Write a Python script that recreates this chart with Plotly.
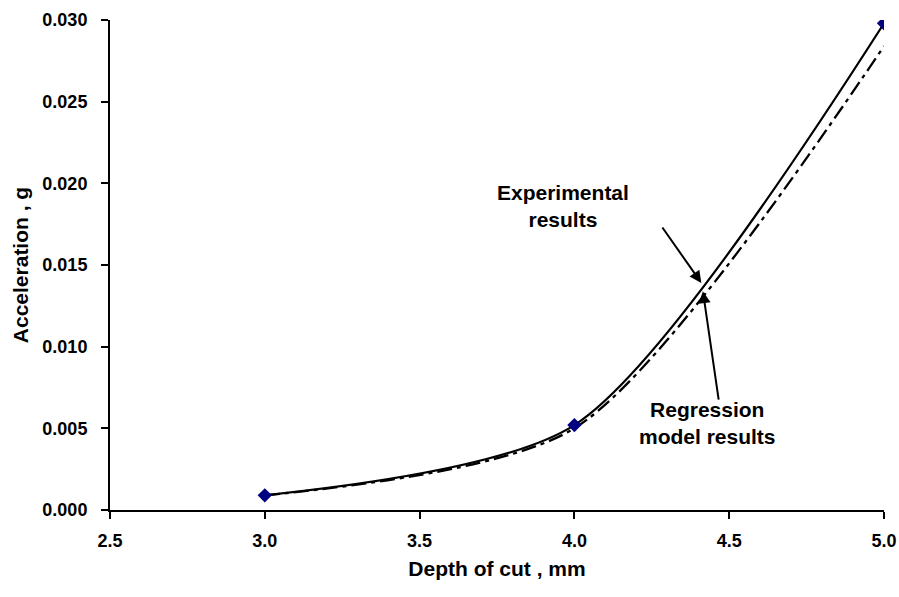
import plotly.graph_objects as go

# Measured vibration data
depth_mm = [3.0, 4.0, 5.0]
accel_exp = [0.0009, 0.0052, 0.0298]

# Regression model predictions
accel_reg = [0.0009, 0.0050, 0.0284]

x_ticks = [2.5, 3.0, 3.5, 4.0, 4.5, 5.0]
y_ticks = [0.000, 0.005, 0.010, 0.015, 0.020, 0.025, 0.030]

font_family = "Liberation Sans, Arial, sans-serif"

fig = go.Figure()

fig.add_trace(go.Scatter(
    x=depth_mm, y=accel_reg, mode="lines",
    line=dict(shape="spline", smoothing=0.75, color="black", width=2.3,
              dash="15px,5px,4px,5px"),
    showlegend=False,
))

fig.add_trace(go.Scatter(
    x=depth_mm, y=accel_exp, mode="lines+markers",
    line=dict(shape="spline", smoothing=0.75, color="black", width=2.2),
    marker=dict(symbol="diamond", size=11, color="#000080",
                line=dict(width=0)),
    showlegend=False,
))

axis_font = dict(family=font_family, size=18, color="black")
title_font = dict(family=font_family, size=21, color="black")

fig.update_xaxes(
    range=[2.5, 5.0], tickvals=x_ticks,
    ticktext=[f"<b>{v:.1f}</b>" for v in x_ticks],
    showline=True, linecolor="black", linewidth=2,
    ticks="outside", tickcolor="black", ticklen=7, tickwidth=2,
    ticklabelstandoff=6,
    showgrid=False, zeroline=False, tickfont=axis_font, automargin=False,
    title=dict(text="<b>Depth of cut , mm</b>", font=title_font, standoff=12),
)
fig.update_yaxes(
    range=[0, 0.030], tickvals=y_ticks,
    ticktext=[f"<b>{v:.3f}</b>" for v in y_ticks],
    showline=True, linecolor="black", linewidth=2,
    ticks="outside", tickcolor="black", ticklen=7, tickwidth=2,
    ticklabelstandoff=10,
    showgrid=False, zeroline=False, tickfont=axis_font, automargin=False,
    title=dict(text="<b>Acceleration , g</b>", font=title_font, standoff=8),
)

label_font = dict(family=font_family, size=21, color="black")

fig.add_annotation(x=3.962, y=0.0186, text="<b>Experimental<br>results</b>",
                   showarrow=False, font=label_font, align="center")
fig.add_annotation(x=4.43, y=0.0053, text="<b>Regression<br>model results</b>",
                   showarrow=False, font=label_font, align="center")

fig.add_annotation(x=4.41, y=0.0139, ax=-40, ay=-57, text="",
                   showarrow=True, arrowhead=2, arrowsize=1.2,
                   arrowwidth=2, arrowcolor="black")
fig.add_annotation(x=4.415, y=0.0134, ax=16, ay=110, text="",
                   showarrow=True, arrowhead=2, arrowsize=1.2,
                   arrowwidth=2, arrowcolor="black")

fig.update_layout(
    width=899, height=597,
    margin=dict(l=110, r=15, t=20, b=87),
    plot_bgcolor="white", paper_bgcolor="white",
    font=dict(family=font_family, color="black"),
)

fig.write_html("out.html")
